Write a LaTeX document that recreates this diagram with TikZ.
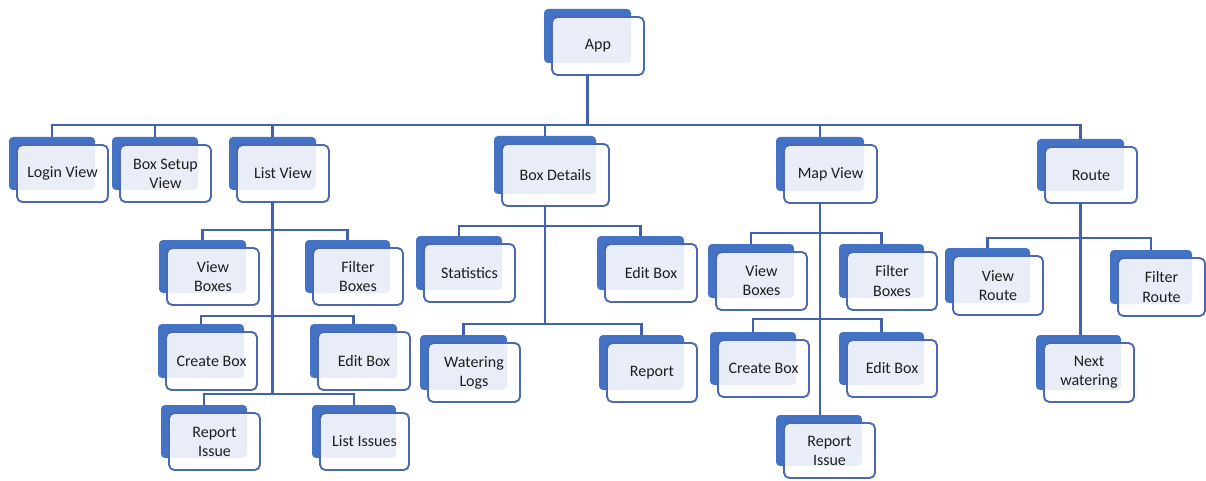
\documentclass[tikz,border=0pt]{standalone}
\usepackage{fontspec}
\setmainfont{Carlito}
\definecolor{shadowblue}{HTML}{4472C4}
\definecolor{borderblue}{HTML}{4A69B2}
\definecolor{connblue}{HTML}{4262AE}
\definecolor{txt}{HTML}{1E1E1E}
\tikzset{
  shadowbox/.style={fill=shadowblue, draw=none, rounded corners=3pt, inner sep=0pt, outer sep=0pt},
  frontbox/.style={fill=white, fill opacity=0.88, text opacity=1, draw=borderblue, line width=1.4pt,
     rounded corners=4pt, inner sep=0pt, outer sep=0pt, align=center, text=txt,
     font=\fontsize{12}{14.3}\selectfont},
  conn/.style={draw=connblue, line width=1.8pt},
}
\newcommand{\mknode}[6]{%
  \pgfmathsetmacro\mysw{(#4-#2-5)*0.75}%
  \pgfmathsetmacro\mysh{(#5-#3-4)*0.75}%
  \pgfmathsetmacro\myfw{(#4-#2)*0.75}%
  \pgfmathsetmacro\myfh{(#5-#3)*0.75}%
  \node[shadowbox, minimum width=\mysw pt, minimum height=\mysh pt] (#1S) at ({(#2+#4)/2-10.5},{(#3+#5)/2-10}) {};
  \node[frontbox, minimum width=\myfw pt, minimum height=\myfh pt] (#1) at ({(#2+#4)/2},{(#3+#5)/2}) {#6};
}
\begin{document}
\begin{tikzpicture}[x=0.75pt,y=-0.75pt]
\useasboundingbox[fill=white] (0,0) rectangle (1206,481);
% level 0
\mknode{app}{552}{17}{644}{75}{App}
% level 1
\mknode{login}{17}{145}{108}{202}{Login View}
\mknode{setup}{120}{145}{211}{202}{Box Setup\\View}
\mknode{list}{237}{145}{329}{202}{List View}
\mknode{details}{502}{144}{609}{206}{Box Details}
\mknode{map}{784}{145}{877}{203}{Map View}
\mknode{route}{1045}{147}{1137}{203}{Route}
% list view children
\mknode{lview}{167}{248}{259}{305}{View\\Boxes}
\mknode{lfilter}{313}{248}{403}{305}{Filter\\Boxes}
\mknode{lcreate}{166}{332}{257}{390}{Create Box}
\mknode{ledit}{318}{332}{410}{390}{Edit Box}
\mknode{lreport}{169}{413}{260}{470}{Report\\Issue}
\mknode{lissues}{320}{413}{409}{470}{List Issues}
% box details children
\mknode{stats}{424}{244}{515}{302}{Statistics}
\mknode{dedit}{605}{244}{697}{302}{Edit Box}
\mknode{logs}{428}{343}{520}{402}{Watering\\Logs}
\mknode{report}{607}{343}{697}{402}{Report}
% map view children
\mknode{mview}{716}{252}{807}{310}{View\\Boxes}
\mknode{mfilter}{847}{252}{937}{310}{Filter\\Boxes}
\mknode{mcreate}{718}{340}{809}{397}{Create Box}
\mknode{medit}{847}{340}{937}{397}{Edit Box}
\mknode{mreport}{784}{423}{875}{478}{Report\\Issue}
% route children
\mknode{rview}{953}{256}{1043}{315}{View\\Route}
\mknode{rfilter}{1118}{258}{1205}{316}{Filter\\Route}
\mknode{rnext}{1044}{343}{1134}{402}{Next\\watering}
% bar levels
\coordinate (ab) at (0,125);
\coordinate (lb1) at (0,230);
\coordinate (lb2) at (0,316);
\coordinate (lb3) at (0,394);
\coordinate (db1) at (0,226);
\coordinate (db2) at (0,324);
\coordinate (mb1) at (0,233);
\coordinate (mb2) at (0,319);
\coordinate (rb1) at (0,238);
% app connectors
\draw[conn] (appS.north |- app.south) -- (appS.north |- ab);
\draw[conn] (loginS.north) -- (loginS.north |- ab) -- (routeS.north |- ab) -- (routeS.north);
\foreach \n in {setupS,listS,detailsS,mapS}
  \draw[conn] (\n.north |- ab) -- (\n.north);
% list view
\draw[conn] (listS.north |- list.south) -- (listS.north |- lb3);
\draw[conn] (lviewS.north) -- (lviewS.north |- lb1) -- (lfilterS.north |- lb1) -- (lfilterS.north);
\draw[conn] (lcreateS.north) -- (lcreateS.north |- lb2) -- (leditS.north |- lb2) -- (leditS.north);
\draw[conn] (lreportS.north) -- (lreportS.north |- lb3) -- (lissuesS.north |- lb3) -- (lissuesS.north);
% box details
\draw[conn] (detailsS.north |- details.south) -- (detailsS.north |- db2);
\draw[conn] (statsS.north) -- (statsS.north |- db1) -- (deditS.north |- db1) -- (deditS.north);
\draw[conn] (logsS.north) -- (logsS.north |- db2) -- (reportS.north |- db2) -- (reportS.north);
% map view
\draw[conn] (mapS.north |- map.south) -- (mapS.north |- mreportS.north);
\draw[conn] (mviewS.north) -- (mviewS.north |- mb1) -- (mfilterS.north |- mb1) -- (mfilterS.north);
\draw[conn] (mcreateS.north) -- (mcreateS.north |- mb2) -- (meditS.north |- mb2) -- (meditS.north);
% route
\draw[conn] (routeS.north |- route.south) -- (routeS.north |- rnextS.north);
\draw[conn] (rviewS.north) -- (rviewS.north |- rb1) -- (rfilterS.north |- rb1) -- (rfilterS.north);
\end{tikzpicture}
\end{document}
